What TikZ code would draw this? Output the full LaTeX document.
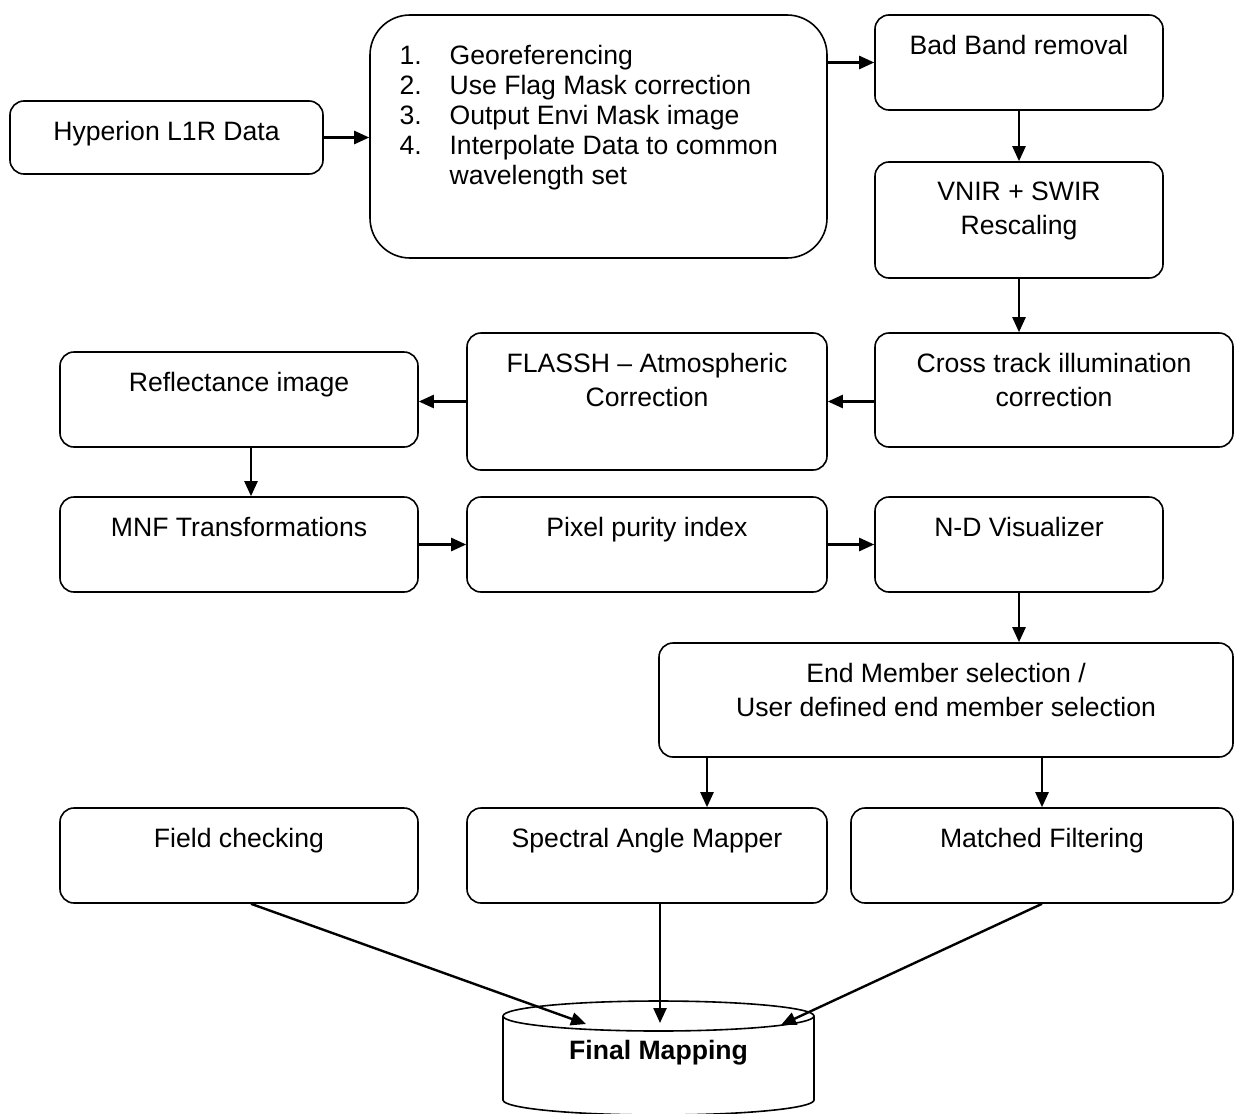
\documentclass[tikz,border=0pt]{standalone}
\usepackage{fontspec}
\setmainfont{Liberation Sans}
\usetikzlibrary{arrows.meta}

\begin{document}
\begin{tikzpicture}[x=0.5pt,y=-0.5pt,
    stage/.style={draw, line width=0.8pt, rounded corners=7pt, minimum height=47.5pt, inner sep=0pt},
    stagetext/.style={anchor=north, yshift=-10.3pt, inner sep=0pt, align=center, font=\fontsize{13.3}{17}\selectfont},
    arr/.style={line width=1.2pt, -{Triangle[length=7.5pt,width=6.5pt]}}]
  \useasboundingbox (0,0) rectangle (1234,1113);

  % preprocessing
  \node[stage, minimum width=156.5pt, minimum height=36.5pt, label={[stagetext]north:Hyperion L1R Data}] (hyperion) at (166.5,137.5) {};
  \node[stage, minimum width=228.5pt, minimum height=121.5pt, rounded corners=20pt,
    label={[anchor=north west, xshift=15pt, yshift=-15.5pt, inner sep=0pt, align=left, font=\fontsize{13.3}{15}\selectfont]north west:%
      \makebox[25pt][l]{1.}Georeferencing\\
      \makebox[25pt][l]{2.}Use Flag Mask correction\\
      \makebox[25pt][l]{3.}Output Envi Mask image\\
      \makebox[25pt][l]{4.}Interpolate Data to common\\
      \hspace*{25pt}wavelength set}] (steps) at (598.5,136.5) {};
  \node[stage, minimum width=144pt, label={[stagetext]north:Bad Band removal}] (badband) at (1019,62.5) {};
  \node[stage, minimum width=144pt, minimum height=58pt, label={[stagetext]north:VNIR + SWIR\\Rescaling}] (rescale) at (1019,220) {};
  \node[stage, minimum width=179pt, minimum height=57pt, label={[stagetext]north:Cross track illumination\\correction}] (crosstrack) at (1054,390) {};
  \node[stage, minimum width=180pt, minimum height=68.5pt, label={[stagetext]north:FLASSH – Atmospheric\\Correction}] (flaash) at (647,401.5) {};
  \node[stage, minimum width=179pt, label={[stagetext]north:Reflectance image}] (reflect) at (239,399.5) {};

  % endmember extraction
  \node[stage, minimum width=179pt, label={[stagetext]north:MNF Transformations}] (mnf) at (239,544.5) {};
  \node[stage, minimum width=180pt, label={[stagetext]north:Pixel purity index}] (ppi) at (647,544.5) {};
  \node[stage, minimum width=144pt, label={[stagetext]north:N-D Visualizer}] (ndvis) at (1019,544.5) {};
  \node[stage, minimum width=287pt, minimum height=57pt, label={[stagetext]north:End Member selection /\\User defined end member selection}] (endmember) at (946,700) {};

  % mapping
  \node[stage, minimum width=179pt, label={[stagetext]north:Field checking}] (field) at (239,855.5) {};
  \node[stage, minimum width=180pt, label={[stagetext]north:Spectral Angle Mapper}] (sam) at (647,855.5) {};
  \node[stage, minimum width=191pt, label={[stagetext]north:Matched Filtering}] (matched) at (1042,855.5) {};

  \draw[line width=0.8pt] (503,1016) -- (503,1100) arc[start angle=180, end angle=0, x radius=155.5, y radius=15] -- (814,1016);
  \draw[line width=0.8pt] (658.5,1016) ellipse [x radius=155.5, y radius=15];
  \node[font=\fontsize{13.3}{17}\selectfont\bfseries] (mapping) at (658.5,1053) {Final Mapping};
  \coordinate (tipfield) at (586,1024);
  \coordinate (tipsam) at (660,1023);
  \coordinate (tipmatched) at (781,1025);

  \draw[arr] (hyperion.east) -- (hyperion.east -| steps.west);
  \draw[arr] (badband.west -| steps.east) -- (badband.west);
  \draw[arr] (badband) -- (rescale);
  \draw[arr] (rescale.south) -- (rescale.south |- crosstrack.north);
  \draw[arr] (flaash.east -| crosstrack.west) -- (flaash.east);
  \draw[arr] (flaash.west) -- (flaash.west -| reflect.east);
  \draw[arr] ([xshift=6pt]reflect.south) -- ([xshift=6pt]mnf.north);
  \draw[arr] (mnf) -- (ppi);
  \draw[arr] (ppi) -- (ndvis);
  \draw[arr] (ndvis.south) -- (ndvis.south |- endmember.north);
  \draw[arr] ([xshift=30pt]sam.north |- endmember.south) -- ([xshift=30pt]sam.north);
  \draw[arr] (matched.north |- endmember.south) -- (matched.north);
  \draw[arr] ([xshift=6pt]field.south) -- (tipfield);
  \draw[arr] ([xshift=6.5pt]sam.south) -- (tipsam);
  \draw[arr] (matched.south) -- (tipmatched);
\end{tikzpicture}
\end{document}
